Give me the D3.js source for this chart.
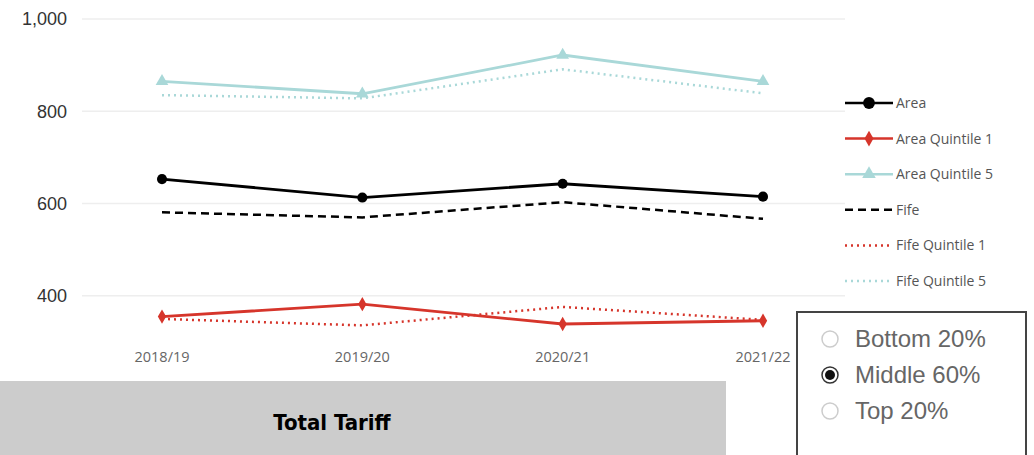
<!DOCTYPE html>
<html>
<head>
<meta charset="utf-8">
<script src="https://cdn.jsdelivr.net/npm/d3@7"></script>
<style>
  body { margin: 0; background: #fff; }
  svg { display: block; font-family: "Open Sans", "Noto Sans", sans-serif; }
</style>
</head>
<body>
<div id="chart"></div>
<script>
// Data
const years = ["2018/19", "2019/20", "2020/21", "2021/22"];
const area = [653, 613, 643, 615];
const areaQ1 = [355, 382, 339, 346];
const areaQ5 = [865, 838, 922, 865];
const fife = [581, 570, 603, 567];
const fifeQ1 = [350, 336, 376, 348];
const fifeQ5 = [835, 828, 891, 839];
const yTicks = [400, 600, 800, 1000];
const options = ["Bottom 20%", "Middle 60%", "Top 20%"];
const selected = "Middle 60%";

const series = [
  {name: "Area", values: area, color: "#000000", dash: null, marker: "circle"},
  {name: "Area Quintile 1", values: areaQ1, color: "#d6352b", dash: null, marker: "diamond"},
  {name: "Area Quintile 5", values: areaQ5, color: "#a9d8d8", dash: null, marker: "triangle"},
  {name: "Fife", values: fife, color: "#000000", dash: "8,5", marker: null},
  {name: "Fife Quintile 1", values: fifeQ1, color: "#d6352b", dash: "2,4", marker: null},
  {name: "Fife Quintile 5", values: fifeQ5, color: "#a9d8d8", dash: "2,4", marker: null}
];

const W = 1034, H = 455;
const svg = d3.select("#chart").append("svg").attr("width", W).attr("height", H);

// Scales
const x = d3.scalePoint().domain(years).range([162, 763]);
const y = d3.scaleLinear().domain([300, 1000]).range([342, 19]);

// Gridlines
svg.append("g").selectAll("line").data(yTicks).enter().append("line")
  .attr("x1", 82).attr("x2", 845)
  .attr("y1", d => y(d)).attr("y2", d => y(d))
  .attr("stroke", "#eeeeee").attr("stroke-width", 1.5);

// Y axis labels
svg.append("g").selectAll("text").data(yTicks).enter().append("text")
  .attr("x", 67).attr("y", d => y(d)).attr("dy", "0.35em")
  .attr("text-anchor", "end").attr("fill", "#333")
  .style("font-size", "18px")
  .style("font-family", "'Liberation Sans', Arial, sans-serif")
  .text(d3.format(","));

// X axis labels
svg.append("g").selectAll("text").data(years).enter().append("text")
  .attr("x", d => x(d)).attr("y", 357).attr("dy", "0.35em")
  .attr("text-anchor", "middle").attr("fill", "#666")
  .style("font-size", "14.5px")
  .text(d => d);

const line = d3.line().x((d, i) => x(years[i])).y(d => y(d));

// Draw dashed first, then solid on top
const drawOrder = [3, 4, 5, 0, 1, 2];
drawOrder.forEach(k => {
  const s = series[k];
  svg.append("path").datum(s.values)
    .attr("fill", "none")
    .attr("stroke", s.color)
    .attr("stroke-width", s.dash ? 2.5 : 2.8)
    .attr("stroke-dasharray", s.dash)
    .attr("d", line);
  if (s.marker) {
    const sym = s.marker === "circle" ? d3.symbolCircle : s.marker === "diamond" ? d3.symbolDiamond : d3.symbolTriangle;
    const size = s.marker === "circle" ? 80 : s.marker === "diamond" ? 60 : 70;
    svg.append("g").selectAll("path").data(s.values).enter().append("path")
      .attr("transform", (d, i) => "translate(" + x(years[i]) + "," + y(d) + ")")
      .attr("d", d3.symbol().type(sym).size(size))
      .attr("fill", s.color);
  }
});

// Legend
const legend = svg.append("g").attr("transform", "translate(845,103)");
series.forEach((s, i) => {
  const g = legend.append("g").attr("transform", "translate(0," + (i * 35.6) + ")");
  g.append("line").attr("x1", 0).attr("x2", 48).attr("y1", 0).attr("y2", 0)
    .attr("stroke", s.color).attr("stroke-width", 2.5)
    .attr("stroke-dasharray", s.dash);
  if (s.marker) {
    const sym = s.marker === "circle" ? d3.symbolCircle : s.marker === "diamond" ? d3.symbolDiamond : d3.symbolTriangle;
    const size = s.marker === "circle" ? 110 : s.marker === "diamond" ? 70 : 80;
    g.append("path").attr("transform", "translate(24,0)")
      .attr("d", d3.symbol().type(sym).size(size)).attr("fill", s.color);
  }
  g.append("text").attr("x", 51).attr("y", 0).attr("dy", "0.35em")
    .attr("fill", "#555").style("font-size", "14px").text(s.name);
});

// Radio box
const radio = svg.append("g");
radio.append("rect").attr("x", 797).attr("y", 312).attr("width", 229).attr("height", 160)
  .attr("fill", "#fff").attr("stroke", "#444").attr("stroke-width", 2);
options.forEach((o, i) => {
  const cy = 339 + i * 36;
  radio.append("circle").attr("cx", 830).attr("cy", cy).attr("r", 8)
    .attr("fill", "#fff").attr("stroke", o === selected ? "#333" : "#ccc").attr("stroke-width", 1.5);
  if (o === selected) {
    radio.append("circle").attr("cx", 830).attr("cy", cy).attr("r", 5).attr("fill", "#111");
  }
  radio.append("text").attr("x", 855).attr("y", cy).attr("dy", "0.35em")
    .attr("fill", "#666").style("font-size", "24px")
    .style("font-family", "'Liberation Sans', Arial, sans-serif")
    .text(o);
});

// Title bar
svg.append("rect").attr("x", 0).attr("y", 381).attr("width", 726).attr("height", 80).attr("fill", "#cccccc");
svg.append("text").attr("x", 332).attr("y", 422).attr("dy", "0.35em")
  .attr("text-anchor", "middle").attr("fill", "#000")
  .style("font-size", "22px").style("font-weight", "bold")
  .style("font-family", "'DejaVu Sans Condensed', 'Liberation Sans Narrow', sans-serif")
  .text("Total Tariff");
</script>
</body>
</html>
